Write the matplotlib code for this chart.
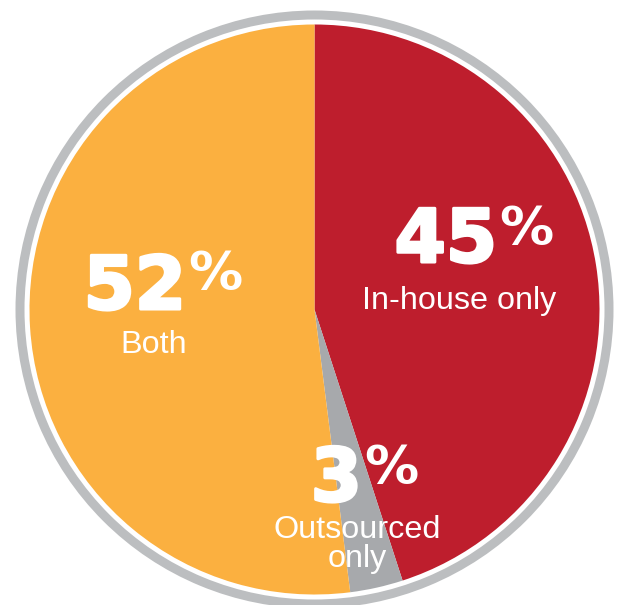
import matplotlib

matplotlib.use("Agg")

import matplotlib.pyplot as plt
import matplotlib.patheffects as pe
from matplotlib.patches import Wedge

# data
labels = ["In-house only", "Outsourced only", "Both"]
values = [45, 3, 52]
colors = ["#BE1E2D", "#A7A9AC", "#FBB040"]

W, H = 619, 605
CX, CY, R = 314.5, 309.5, 285
RING_COLOR = "#BCBEC0"

NUM_FONT = dict(family="DejaVu Sans", fontweight="bold", color="white")
TXT_FONT = dict(family=["Liberation Sans", "DejaVu Sans"],
                fontweight="normal", color="white")
HEAVY = [pe.withStroke(linewidth=2.2, foreground="white")]

fig = plt.figure(figsize=(W / 100, H / 100), dpi=100)
ax = fig.add_axes([0, 0, 1, 1])

# y axis runs downward (pixel-like), so angles grow clockwise on screen:
# start at the top (-90) and go "counterclockwise" in data terms
ax.pie(values, colors=colors, startangle=-90, counterclock=True,
       center=(CX, CY), radius=R, frame=True,
       wedgeprops=dict(linewidth=0))
ax.set_xlim(0, W)
ax.set_ylim(H, 0)
ax.set_aspect("equal")
ax.axis("off")

# outer grey ring
ax.add_patch(Wedge((CX, CY), 299, 0, 360, width=9, facecolor=RING_COLOR,
                   edgecolor="none"))

# label placement (number right edge, number baseline, % baseline, caption lines)
layout = {
    "In-house only": dict(nx=497, ny=262, py=245, lines=[("In-house only", 459, 309)]),
    "Outsourced only": dict(nx=362, ny=501, py=484,
                            lines=[("Outsourced", 357, 538), ("only", 357, 567)]),
    "Both": dict(nx=186, ny=309, py=290, lines=[("Both", 153.5, 353)]),
}

for lab, v in zip(labels, values):
    p = layout[lab]
    ax.text(p["nx"], p["ny"], f"{v}", ha="right", va="baseline",
            fontsize=53, path_effects=HEAVY, **NUM_FONT)
    ax.text(p["nx"] + 2, p["py"], "%", ha="left", va="baseline",
            fontsize=39, **NUM_FONT)
    for s, x, y in p["lines"]:
        ax.text(x, y, s, ha="center", va="baseline", fontsize=23.3, **TXT_FONT)

fig.savefig("out.png", dpi=100)
